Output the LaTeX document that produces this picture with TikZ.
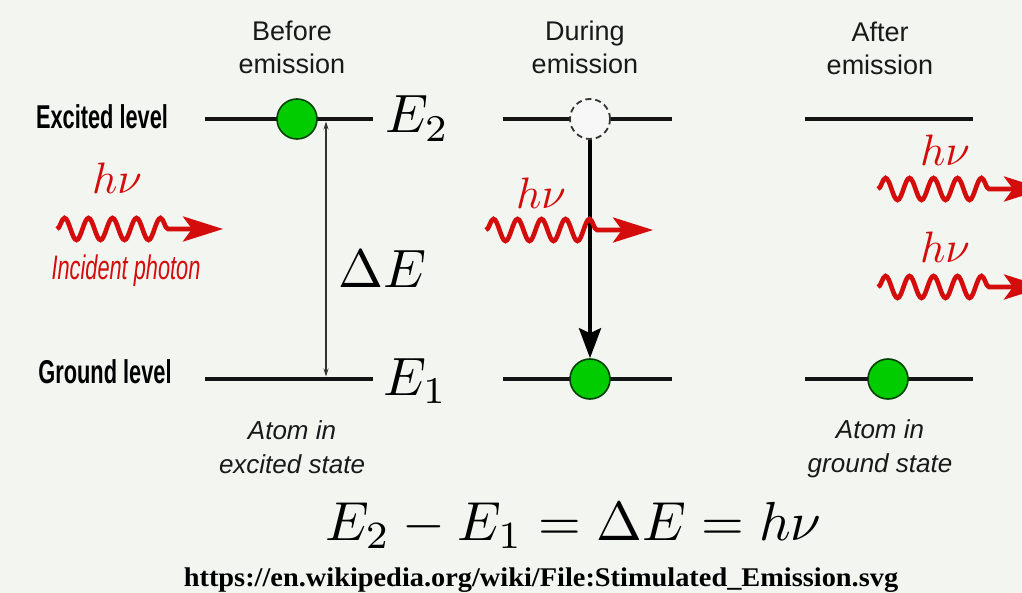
\documentclass[tikz,border=0pt]{standalone}
\usepackage[no-math]{fontspec}
\usetikzlibrary{arrows.meta,decorations.pathmorphing}
\newfontfamily\arialf{Liberation Sans}
\newfontfamily\timesf{Liberation Serif}
\definecolor{bgc}{RGB}{242,245,240}
\definecolor{photred}{RGB}{212,12,12}
\definecolor{atomgreen}{RGB}{0,204,0}
\definecolor{txtc}{RGB}{25,25,25}
\newcommand{\fsz}[2]{\fontsize{#1}{#2}\selectfont}
\newcommand{\bigmath}[2]{\scalebox{#1}{\fontsize{10}{12}\selectfont$#2$}}
\begin{document}
\begin{tikzpicture}[x=1pt,y=-1pt,
  level/.style={line width=4.5pt, black!92},
  atom/.style={circle, draw=black!75!green, line width=1.6pt, fill=atomgreen, minimum size=40pt, inner sep=0pt},
  ghost/.style={circle, draw=black!80, dash pattern=on 6pt off 4pt, line width=1.8pt, fill=white!97!black, minimum size=40pt, inner sep=0pt},
  photon/.style={photred, line width=4.6pt, decorate,
     decoration={snake, amplitude=11pt, segment length=24pt, post length=50pt},
     -{Stealth[length=40pt,width=25pt,inset=9pt]}},
  title/.style={align=center, text=txtc, font=\arialf\fsz{27}{33}, inner sep=0pt},
  state/.style={align=center, text=txtc, font=\arialf\itshape\fsz{26}{34}, inner sep=0pt},
  levlab/.style={text=black, font=\arialf\bfseries\fsz{33}{33}, inner sep=0pt},
  mathlab/.style={text=black, inner sep=0pt, anchor=base west},
  hnu/.style={text=photred, inner sep=0pt, anchor=base},
  gap/.style={black!80, line width=1.1pt, {Stealth[length=8pt,width=5pt]}-{Stealth[length=8pt,width=5pt]}},
  fall/.style={black, line width=4pt, -{Stealth[length=30pt,width=22pt,inset=5pt]}}
]
\fill[bgc] (0,0) rectangle (1022,593);
\useasboundingbox (0,0) rectangle (1022,593);
\clip (0,0) rectangle (1022,593);

% titles
\node[title] (t1) at (292,47) {Before\\emission};
\node[title] (t2) at (585,47) {During\\emission};
\node[title] (t3) at (880,48) {After\\emission};

% level labels
\node[levlab] (exl) at (102,117) {\scalebox{0.66}[1]{Excited level}};
\node[levlab] (grl) at (105,372) {\scalebox{0.66}[1]{Ground level}};

% level lines
\coordinate (b2l) at (205,119); \coordinate (b2r) at (373,119);
\coordinate (b1l) at (205,379); \coordinate (b1r) at (373,379);
\coordinate (d2l) at (503,119); \coordinate (d2r) at (672,119);
\coordinate (d1l) at (503,379); \coordinate (d1r) at (672,379);
\coordinate (a2l) at (805,119); \coordinate (a2r) at (973,119);
\coordinate (a1l) at (805,379); \coordinate (a1r) at (973,379);
\draw[level] (b2l) -- (b2r);
\draw[level] (b1l) -- (b1r);
\draw[level] (d2l) -- (d2r);
\draw[level] (d1l) -- (d1r);
\draw[level] (a2l) -- (a2r);
\draw[level] (a1l) -- (a1r);

% energy labels
\node[mathlab] (e2) at (385,133) {\bigmath{5.4}{E_2}};
\node[mathlab] (e1) at (383,395) {\bigmath{5.4}{E_1}};
\node[mathlab] (de) at (338,288) {\bigmath{5.4}{\Delta E}};

% energy gap arrow
\coordinate (gt) at (326,121.5);
\coordinate (gb) at (326,376.5);
\draw[gap] (gt) -- (gb);

% atoms
\node[atom] (ab) at (297,119) {};
\node[ghost] (ad) at (590,119) {};
\node[atom] (ag) at (590,379) {};
\node[atom] (aa) at (888,379) {};

% transition arrow
\draw[fall] (ad.south) -- (ag.north);

% photons
\coordinate (p1s) at (57,229);  \coordinate (p1e) at (223,229);
\coordinate (p2s) at (486,230); \coordinate (p2e) at (653,230);
\coordinate (p3s) at (878,189); \coordinate (p3e) at (1044,189);
\coordinate (p4s) at (878,287); \coordinate (p4e) at (1044,287);
\draw[photon] (p1s) -- (p1e);
\draw[photon] (p2s) -- (p2e);
\draw[photon] (p3s) -- (p3e);
\draw[photon] (p4s) -- (p4e);

\node[hnu] (h1) at (117,194) {\bigmath{4.4}{h\nu}};
\node[hnu] (h2) at (541,209) {\bigmath{4.4}{h\nu}};
\node[hnu] (h3) at (945,166) {\bigmath{4.4}{h\nu}};
\node[hnu] (h4) at (945,263) {\bigmath{4.4}{h\nu}};

\node[text=photred, font=\arialf\itshape\fsz{34}{34}, inner sep=0pt] (inc) at (126,271)
  {\scalebox{0.64}[1]{Incident photon}};

% state labels
\node[state] (s1) at (292,447) {Atom in\\excited state};
\node[state] (s2) at (880,449) {Atom in\\ground state};

% equation
\node[text=black, inner sep=0pt, anchor=base west] (eq) at (325,540)
  {\bigmath{5.5}{E_2 - E_1 = \Delta E = h\nu}};

% source
\node[text=black, font=\timesf\bfseries\fsz{27}{27}, inner sep=0pt, anchor=base] (url) at (541,586)
  {\scalebox{1.05}[1]{https://en.wikipedia.org/wiki/File:Stimulated\_Emission.svg}};
\end{tikzpicture}
\end{document}
